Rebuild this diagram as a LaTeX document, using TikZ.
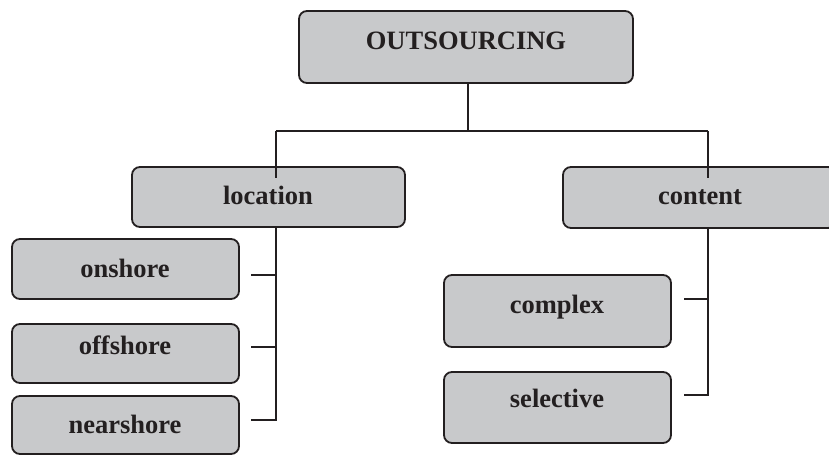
\documentclass[tikz,border=0pt]{standalone}
\usepackage{fontspec}
\setmainfont{Liberation Serif}
\definecolor{boxfill}{RGB}{200,201,203}
\definecolor{ink}{RGB}{35,31,32}
\begin{document}
\begin{tikzpicture}[x=1pt,y=-1pt,
  box/.style={draw=ink, fill=boxfill, line width=1.8pt, rounded corners=8pt, inner sep=0pt},
  lbl/.style={anchor=base, font=\fontsize{26.5}{30}\selectfont\bfseries, text=ink, inner sep=0pt},
  wire/.style={draw=ink, line width=1.8pt}]
\useasboundingbox (0,0) rectangle (829,455);

% boxes
\node[box, minimum width=334pt, minimum height=72pt] (out) at (466,47) {};
\node[box, minimum width=273pt, minimum height=60pt] (loc) at (268.5,197) {};
\node[box, minimum width=273pt, minimum height=61pt] (con) at (699.5,197.5) {};
\node[box, minimum width=227pt, minimum height=60pt] (on) at (125.5,269) {};
\node[box, minimum width=227pt, minimum height=59pt] (off) at (125.5,353.5) {};
\node[box, minimum width=227pt, minimum height=58pt] (near) at (125.5,425) {};
\node[box, minimum width=227pt, minimum height=72pt] (cpx) at (557.5,311) {};
\node[box, minimum width=227pt, minimum height=71pt] (sel) at (557.5,407.5) {};

% tree connectors
\coordinate (hub) at (468,131);
\coordinate (lt) at (276,131);
\coordinate (rt) at (708,131);
\draw[wire] (out.south -| hub) -- (hub);
\draw[wire] (lt) -- (rt);
\draw[wire] (lt) -- ([yshift=-12pt]loc.north -| lt);
\draw[wire] (rt) -- ([yshift=-12pt]con.north -| rt);

\coordinate (t1) at (251,275);
\coordinate (t2) at (251,347);
\coordinate (t3) at (251,420);
\draw[wire] (loc.south -| lt) -- (t3 -| lt) -- (t3);
\draw[wire] (t1) -- (t1 -| lt);
\draw[wire] (t2) -- (t2 -| lt);

\coordinate (u1) at (684,299);
\coordinate (u2) at (684,395);
\draw[wire] (con.south -| rt) -- (u2 -| rt) -- (u2);
\draw[wire] (u1) -- (u1 -| rt);

% labels
\node[lbl] (outT) at (466,49) {OUTSOURCING};
\node[lbl] (locT) at (268,204) {location};
\node[lbl] (conT) at (700,204) {content};
\node[lbl] (onT) at (125,277) {onshore};
\node[lbl] (offT) at (125,354) {offshore};
\node[lbl] (nearT) at (125,433) {nearshore};
\node[lbl] (cpxT) at (557,313) {complex};
\node[lbl] (selT) at (557,407) {selective};
\end{tikzpicture}
\end{document}
